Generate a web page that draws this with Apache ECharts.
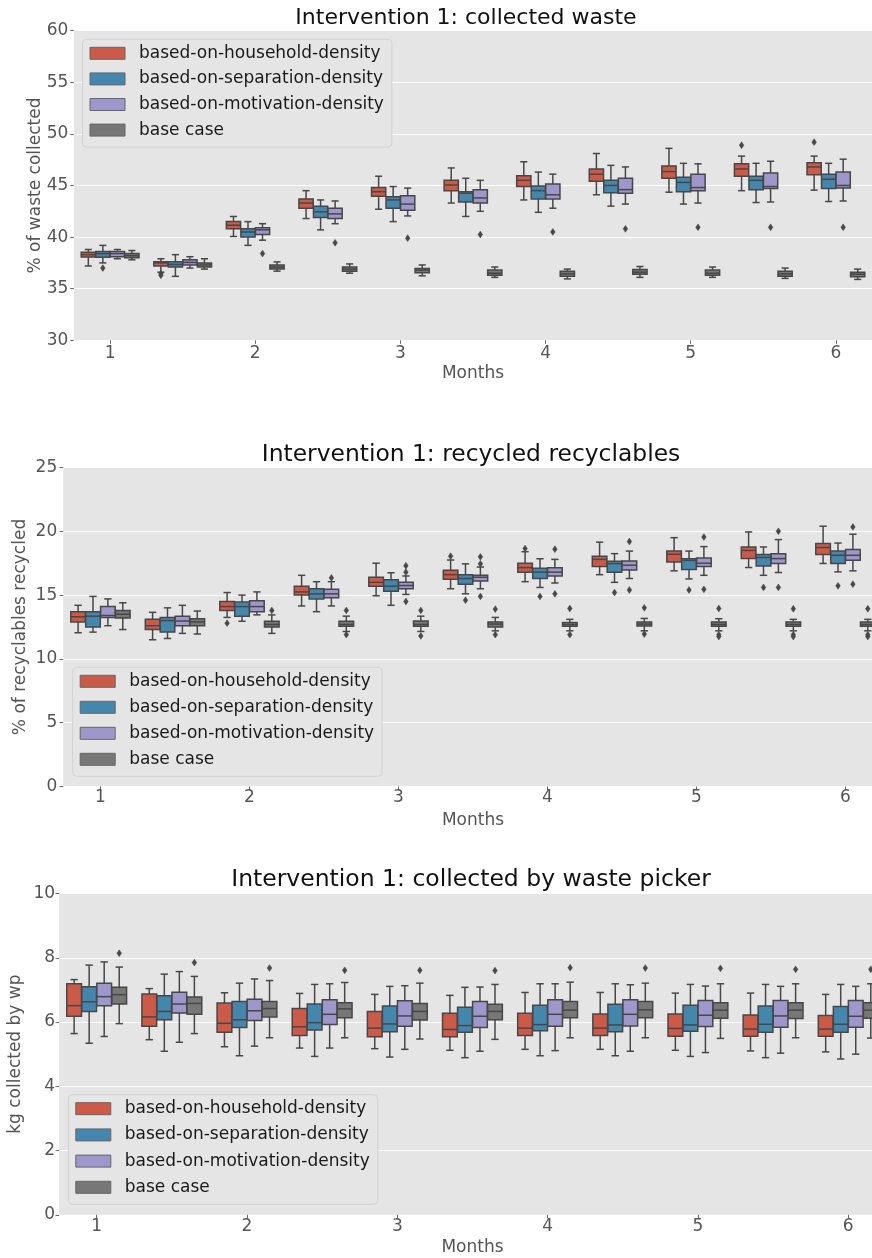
<!DOCTYPE html>
<html>
<head>
<meta charset="utf-8">
<script src="https://cdn.jsdelivr.net/npm/echarts@6/dist/echarts.min.js"></script>
<style>
  html, body { margin: 0; padding: 0; background: #ffffff; }
  #chart { width: 872px; height: 1258px; }
</style>
</head>
<body>
<div id="chart"></div>
<script>
// ---------- DATA ----------
const categories = ['1', '1.5', '2', '2.5', '3', '3.5', '4', '4.5', '5', '5.5', '6'];
const hueNames = ['based-on-household-density', 'based-on-separation-density', 'based-on-motivation-density', 'base case'];
const titles = ['Intervention 1: collected waste', 'Intervention 1: recycled recyclables', 'Intervention 1: collected by waste picker'];
const yNames = ['% of waste collected', '% of recyclables recycled', 'kg collected by wp'];
const xName = 'Months';

// each item: [lowWhisker, q1, median, q3, highWhisker]
const wasteHousehold = [[37.2,38.06,38.3,38.54,38.8],[36.6,37.2,37.5,37.6,37.9],[40.06,40.8,41.15,41.5,42.0],[41.8,42.8,43.3,43.7,44.5],[42.7,43.95,44.4,44.8,45.9],[43.3,44.5,45.05,45.5,46.7],[43.6,44.9,45.5,45.95,47.3],[44.1,45.4,46.1,46.6,48.1],[44.35,45.7,46.35,46.9,48.6],[44.5,45.9,46.6,47.1,47.85],[44.55,46.05,46.8,47.2,47.85]];
const wasteSeparation = [[37.5,38.05,38.4,38.6,39.2],[36.2,37.1,37.35,37.6,38.3],[39.2,40.0,40.5,40.8,41.5],[40.7,41.9,42.45,43.0,43.6],[41.5,42.8,43.6,43.9,44.9],[42.0,43.4,44.25,44.4,45.7],[42.4,43.7,44.5,44.95,46.3],[43.0,44.3,45.0,45.5,46.95],[43.2,44.4,45.3,45.8,47.15],[43.35,44.6,45.5,45.9,47.15],[43.45,44.7,45.6,46.1,47.15]];
const wasteMotivation = [[37.9,38.1,38.4,38.6,38.8],[37.0,37.3,37.55,37.8,38.1],[39.7,40.25,40.7,40.9,41.3],[41.3,41.8,42.25,42.8,43.5],[42.05,42.6,43.2,44.0,44.75],[42.5,43.3,43.8,44.6,45.5],[42.8,43.7,44.1,45.15,46.1],[43.2,44.25,44.6,45.7,46.8],[43.3,44.5,44.8,46.1,47.1],[43.4,44.7,44.9,46.2,47.35],[43.5,44.75,45.0,46.3,47.55]];
const wasteBase = [[37.8,38.0,38.2,38.4,38.7],[36.9,37.1,37.3,37.5,37.9],[36.7,36.9,37.1,37.3,37.6],[36.5,36.7,36.9,37.1,37.4],[36.25,36.55,36.8,36.95,37.3],[36.1,36.3,36.5,36.8,37.1],[35.95,36.2,36.45,36.7,36.9],[36.1,36.4,36.6,36.85,37.15],[36.1,36.3,36.5,36.8,37.1],[36.0,36.2,36.45,36.7,37.0],[35.9,36.15,36.4,36.6,36.9]];
// [categoryIndex, hueIndex, value]
const wasteOutliers = [[0,1,37.0],[1,0,36.45],[1,0,36.3],[2,2,38.4],[3,2,39.45],[4,2,39.9],[5,2,40.25],[6,2,40.5],[7,2,40.8],[8,2,40.95],[9,0,48.9],[9,2,40.95],[10,0,49.2],[10,2,40.95]];

const recHousehold = [[12.05,12.9,13.3,13.7,14.2],[11.5,12.3,12.6,13.1,13.65],[13.25,13.8,14.1,14.5,15.2],[14.15,15.0,15.25,15.7,16.55],[14.95,15.7,16.0,16.4,17.5],[15.5,16.25,16.6,16.95,17.75],[16.05,16.8,17.15,17.5,18.4],[16.6,17.25,17.8,18.05,19.15],[16.9,17.6,18.2,18.45,19.5],[17.16,17.86,18.5,18.77,19.95],[17.48,18.18,18.73,19.04,20.4]];
const recSeparation = [[12.1,12.5,13.35,13.7,14.9],[11.6,12.1,13.0,13.25,14.0],[12.95,13.35,14.1,14.45,15.0],[13.7,14.7,15.1,15.5,16.05],[14.2,15.3,15.7,16.2,16.75],[15.1,15.85,16.3,16.6,17.45],[15.6,16.3,16.8,17.1,17.85],[16.0,16.8,17.47,17.65,18.25],[16.27,17.0,17.72,17.85,18.45],[16.55,17.28,17.95,18.18,18.77],[16.82,17.48,18.12,18.45,19.08]];
const recMotivation = [[12.6,13.25,13.4,14.1,14.7],[12.0,12.6,12.97,13.35,14.2],[13.45,13.7,14.1,14.55,15.25],[14.15,14.8,15.1,15.45,16.05],[15.05,15.5,15.75,16.0,16.5],[15.5,16.1,16.4,16.55,17.2],[15.95,16.5,16.8,17.15,17.8],[16.3,16.97,17.34,17.68,18.45],[16.55,17.25,17.5,17.9,18.8],[16.77,17.47,17.86,18.25,19.35],[16.9,17.73,18.12,18.57,19.77]];
const recBase = [[12.3,13.2,13.5,13.8,14.4],[11.95,12.6,12.9,13.15,13.75],[12.0,12.5,12.7,12.95,13.45],[12.15,12.55,12.7,12.95,13.35],[12.15,12.55,12.7,12.97,13.35],[12.2,12.5,12.73,12.9,13.25],[12.2,12.55,12.7,12.85,13.1],[12.2,12.57,12.73,12.9,13.17],[12.2,12.55,12.7,12.9,13.15],[12.2,12.55,12.7,12.9,13.1],[12.2,12.55,12.7,12.9,13.1]];
const recOutliers = [[2,0,12.8],[2,3,13.8],[3,2,16.35],[3,3,13.8],[3,3,11.9],[4,2,17.3],[4,2,16.8],[4,2,14.5],[4,3,13.8],[4,3,11.8],[5,0,18.05],[5,1,14.6],[5,2,18.0],[5,2,17.45],[5,2,14.9],[5,3,13.9],[5,3,11.9],[6,0,18.65],[6,1,14.9],[6,2,18.6],[6,2,15.1],[6,3,13.95],[6,3,11.9],[7,1,15.2],[7,2,19.2],[7,2,15.4],[7,3,14.0],[7,3,11.95],[8,1,15.4],[8,2,19.55],[8,2,15.45],[8,3,13.95],[8,3,11.9],[8,3,11.75],[9,1,15.6],[9,2,20.0],[9,2,15.6],[9,3,13.93],[9,3,11.9],[9,3,11.75],[10,1,15.73],[10,2,20.34],[10,2,15.86],[10,3,13.93],[10,3,11.9],[10,3,11.75]];

const wpHousehold = [[5.64,6.18,6.51,7.19,7.32],[5.45,5.87,6.16,6.87,7.04],[5.23,5.68,5.96,6.59,6.91],[5.19,5.58,5.85,6.42,6.89],[5.17,5.54,5.81,6.33,6.86],[5.12,5.54,5.77,6.27,6.83],[5.15,5.58,5.81,6.27,6.92],[5.15,5.58,5.81,6.25,6.92],[5.12,5.56,5.8,6.25,6.9],[5.1,5.56,5.78,6.22,6.9],[5.07,5.56,5.78,6.2,6.86]];
const wpSeparation = [[5.34,6.33,6.63,7.1,7.77],[5.09,6.07,6.33,6.82,7.49],[4.95,5.83,6.07,6.64,7.21],[4.93,5.75,5.98,6.56,7.17],[4.91,5.7,5.94,6.5,7.11],[4.89,5.68,5.89,6.46,7.08],[4.95,5.73,5.92,6.52,7.19],[4.95,5.7,5.91,6.55,7.19],[4.93,5.71,5.91,6.52,7.17],[4.89,5.68,5.93,6.5,7.17],[4.85,5.68,5.93,6.48,7.17]];
const wpMotivation = [[5.55,6.51,6.79,7.21,7.87],[5.37,6.28,6.56,6.93,7.57],[5.25,6.05,6.35,6.71,7.34],[5.19,5.92,6.24,6.69,7.19],[5.15,5.87,6.19,6.66,7.13],[5.09,5.83,6.18,6.64,7.09],[5.11,5.87,6.24,6.69,7.19],[5.09,5.88,6.24,6.69,7.16],[5.05,5.86,6.21,6.67,7.12],[5.03,5.84,6.19,6.67,7.11],[5.0,5.84,6.18,6.67,7.11]];
const wpBase = [[5.95,6.56,6.85,7.08,7.71],[5.64,6.24,6.58,6.78,7.42],[5.51,6.16,6.42,6.64,7.29],[5.51,6.13,6.41,6.6,7.23],[5.47,6.06,6.33,6.58,7.21],[5.46,6.07,6.33,6.55,7.17],[5.51,6.13,6.37,6.64,7.24],[5.51,6.13,6.38,6.64,7.21],[5.49,6.12,6.37,6.6,7.19],[5.51,6.11,6.37,6.6,7.19],[5.5,6.12,6.37,6.6,7.19]];
const wpOutliers = [[0,3,8.14],[1,3,7.85],[2,3,7.68],[3,3,7.61],[4,3,7.61],[5,3,7.6],[6,3,7.69],[7,3,7.68],[8,3,7.67],[9,3,7.64],[10,3,7.64]];

const yMin = [30, 0, 0];
const yMax = [60, 25, 10];
const yInterval = [5, 5, 2];

// ---------- STYLE / LAYOUT ----------
const FONT = 'DejaVu Sans';
const colors = ['#CC5A49', '#4586AC', '#9E97CC', '#777777'];
const EDGE = '#474747';
const panelBoxes = [
  [wasteHousehold, wasteSeparation, wasteMotivation, wasteBase],
  [recHousehold, recSeparation, recMotivation, recBase],
  [wpHousehold, wpSeparation, wpMotivation, wpBase]
];
const panelOutliers = [wasteOutliers, recOutliers, wpOutliers];
const grids = [
  { left: 73.8, top: 30.7, width: 798.4, height: 309.6 },
  { left: 63.2, top: 467.5, width: 819.5, height: 319 },
  { left: 59.1, top: 893.5, width: 826.7, height: 321.3 }
];
const yLabelMargin = [5.5, 6, 4];
const yNameGap = [30, 34.6, 35.3];
const xLabelMargin = [5, 3, 3];
const xNameGap = [24.6, 25.5, 24.5];
const titleX = [466, 471, 471];
const titleY = [18.4, 455.1, 879.7];
const titleSize = [22, 23.4, 23.5];
const legendPos = [
  { left: 82.5, top: 39.3, gap: 5.6 },
  { left: 72.7, top: 667.3, gap: 6 },
  { left: 68.3, top: 1094.7, gap: 6.2 }
];

function boxRenderer(h) {
  return function (params, api) {
    const cat = api.value(0);
    const bw = api.size([1, 0])[0];
    const cx = api.coord([cat, api.value(3)])[0] + (h - 1.5) * 0.2 * bw;
    const w = 0.196 * bw;
    const yy = k => api.coord([cat, api.value(k)])[1];
    const yl = yy(1), yq1 = yy(2), ym = yy(3), yq3 = yy(4), yh = yy(5);
    const ls = { stroke: EDGE, lineWidth: 1.5 };
    return {
      type: 'group',
      children: [
        { type: 'line', shape: { x1: cx, y1: yq1, x2: cx, y2: yl }, style: ls },
        { type: 'line', shape: { x1: cx, y1: yq3, x2: cx, y2: yh }, style: ls },
        { type: 'line', shape: { x1: cx - w / 4, y1: yl, x2: cx + w / 4, y2: yl }, style: ls },
        { type: 'line', shape: { x1: cx - w / 4, y1: yh, x2: cx + w / 4, y2: yh }, style: ls },
        { type: 'rect', shape: { x: cx - w / 2, y: yq3, width: w, height: yq1 - yq3 },
          style: { fill: colors[h], stroke: EDGE, lineWidth: 1.5 } },
        { type: 'line', shape: { x1: cx - w / 2, y1: ym, x2: cx + w / 2, y2: ym }, style: ls }
      ]
    };
  };
}

function outlierRenderer(params, api) {
  const cat = api.value(0);
  const h = api.value(1);
  const bw = api.size([1, 0])[0];
  const p = api.coord([cat, api.value(2)]);
  const cx = p[0] + (h - 1.5) * 0.2 * bw;
  const cy = p[1];
  return {
    type: 'polygon',
    shape: { points: [[cx, cy - 3.4], [cx + 2.3, cy], [cx, cy + 3.4], [cx - 2.3, cy]] },
    style: { fill: EDGE, stroke: EDGE, lineWidth: 0.5 }
  };
}

const option = {
  animation: false,
  backgroundColor: '#ffffff',
  textStyle: { fontFamily: FONT },
  grid: grids.map(g => Object.assign({
    show: true, backgroundColor: '#E5E5E5', borderWidth: 0,
    containLabel: false, outerBoundsMode: 'none'
  }, g)),
  xAxis: [0, 1, 2].map(p => ({
    type: 'category',
    gridIndex: p,
    data: categories,
    boundaryGap: true,
    axisLine: { show: false },
    axisTick: { show: true, interval: 1, alignWithLabel: true, length: 3.5, lineStyle: { color: '#666' } },
    axisLabel: { interval: 1, margin: xLabelMargin[p], fontSize: 17, color: '#555555', fontFamily: FONT },
    splitLine: { show: false },
    name: xName,
    nameLocation: 'middle',
    nameGap: xNameGap[p],
    nameTextStyle: { fontSize: 17, color: '#555555', fontFamily: FONT }
  })),
  yAxis: [0, 1, 2].map(p => ({
    type: 'value',
    gridIndex: p,
    min: yMin[p],
    max: yMax[p],
    interval: yInterval[p],
    axisLine: { show: false },
    axisTick: { show: true, length: 3.5, lineStyle: { color: '#666' } },
    axisLabel: { margin: yLabelMargin[p], fontSize: 17, color: '#555555', fontFamily: FONT },
    splitLine: { show: true, lineStyle: { color: '#ffffff', width: 1.2 } },
    name: yNames[p],
    nameLocation: 'middle',
    nameRotate: 90,
    nameGap: yNameGap[p],
    nameMoveOverlap: false,
    nameTextStyle: { fontSize: 17, color: '#555555', fontFamily: FONT }
  })),
  legend: legendPos.map(lp => ({
    data: hueNames,
    orient: 'vertical',
    left: lp.left,
    top: lp.top,
    icon: 'rect',
    itemWidth: 35,
    itemHeight: 12,
    itemGap: lp.gap,
    padding: [4, 8, 7, 7],
    backgroundColor: '#E5E5E5',
    borderColor: '#d2d2d2',
    borderWidth: 1,
    borderRadius: 4,
    selectedMode: false,
    itemStyle: { borderColor: '#666666', borderWidth: 1 },
    textStyle: { fontSize: 17, lineHeight: 20, color: '#1a1a1a', fontFamily: FONT, padding: [0, 0, 0, 9] }
  })),
  graphic: titles.map((t, p) => ({
    type: 'text',
    x: titleX[p],
    y: titleY[p],
    style: { text: t, fontSize: titleSize[p], fontFamily: FONT, fill: '#111111', align: 'center', verticalAlign: 'middle' }
  })),
  series: []
};

for (let p = 0; p < 3; p++) {
  for (let h = 0; h < 4; h++) {
    option.series.push({
      type: 'custom',
      name: hueNames[h],
      xAxisIndex: p,
      yAxisIndex: p,
      itemStyle: { color: colors[h] },
      renderItem: boxRenderer(h),
      encode: { x: 0, y: [1, 2, 3, 4, 5] },
      data: panelBoxes[p][h].map((s, i) => [i].concat(s)),
      z: 2
    });
  }
  option.series.push({
    type: 'custom',
    name: 'outliers',
    xAxisIndex: p,
    yAxisIndex: p,
    renderItem: outlierRenderer,
    encode: { x: 0, y: 2 },
    data: panelOutliers[p],
    silent: true,
    z: 3
  });
}

const chart = echarts.init(document.getElementById('chart'), null, { renderer: 'canvas', width: 872, height: 1258 });
chart.setOption(option);
</script>
</body>
</html>
